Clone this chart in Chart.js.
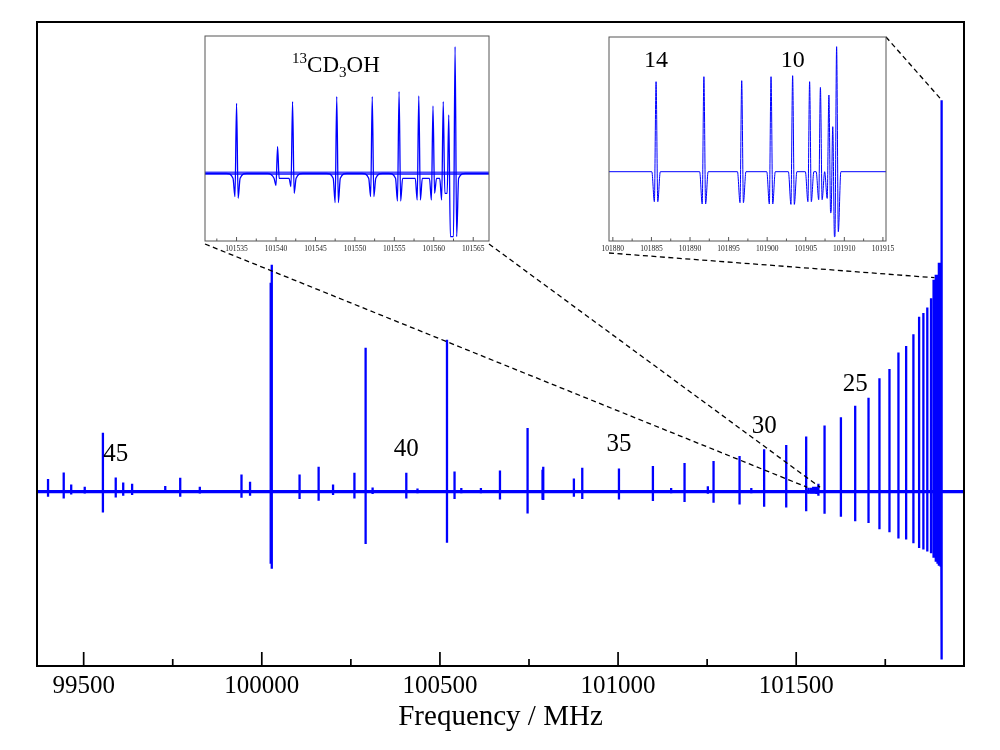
<!DOCTYPE html>
<html>
<head>
<meta charset="utf-8">
<title>13CD3OH spectrum</title>
<script src="https://cdn.jsdelivr.net/npm/chart.js@4.4.0/dist/chart.umd.min.js"></script>
<style>
  html, body { margin: 0; padding: 0; background: #fff; }
  #wrap { position: relative; width: 1000px; height: 750px; }
  #wrap canvas { position: absolute; left: 0; top: 0; }
</style>
</head>
<body>
<div id="wrap">
  <canvas id="main" width="1000" height="750"></canvas>
  <canvas id="inset1" width="1000" height="750"></canvas>
  <canvas id="inset2" width="1000" height="750"></canvas>
</div>
<script>
// ---------- data ----------
// main spectrum: line centres (MHz), height above / depth below baseline (arb. units)
const lineFreq = [
  99400, 99444, 99465, 99503, 99554, 99590, 99611, 99636, 99729, 99771,
  99826, 99943, 99967, 100025, 100028, 100106, 100159.5, 100200, 100260, 100291.4,
  100311, 100405.6, 100437, 100519.8, 100541, 100560, 100615, 100668.5, 100746, 100788,
  100790, 100876, 100899.5, 101002.5, 101097.8, 101149, 101186.6, 101252, 101268, 101341,
  101374, 101410, 101472, 101528, 101535, 101542, 101547.7, 101552.2, 101555.6, 101558.1,
  101561.9, 101562.7, 101579.6, 101625.5, 101665.6, 101703, 101733.7, 101761.8, 101787, 101808.6,
  101829, 101845, 101857, 101868, 101878.5, 101885.6, 101891.8, 101896.7, 101900.5, 101903.3,
  101905.5, 101906.9, 101908.0, 101908.5, 101909.0
];
const lineUp = [
  12.7, 19.3, 7.3, 5, 59, 14.3, 9.3, 8, 5.7, 14,
  5, 17.3, 10, 209, 227, 17.3, 25, 7.3, 19, 144,
  4.3, 19, 3.3, 152, 20.3, 3.7, 3.7, 21.3, 63.7, 22,
  25, 13.3, 24, 23.3, 25.8, 3.7, 28.8, 5.5, 30.6, 35.8,
  3.7, 42.4, 46.8, 55.3, 4, 4, 5, 5, 5, 5,
  6, 8, 66.3, 74.5, 85.9, 94, 113.5, 122.7, 139.3, 145.6,
  157.4, 175, 178.8, 184.3, 193.5, 212, 217, 217, 229, 229,
  229, 229, 229, 200, 391.4
];
const lineDown = [
  5, 6.7, 2.7, 1.7, 20.7, 5.7, 4, 3.3, 1.3, 5,
  1.7, 6, 4, 72, 77, 7.3, 9, 3.3, 6.7, 52.3,
  2.3, 6.7, 1.5, 51, 7.3, 1.5, 1.5, 7.7, 21.7, 8,
  8.3, 5, 7.3, 7.7, 9.2, 1.5, 10.3, 2, 11, 12.9,
  1.5, 15.1, 15.8, 19.5, 2, 2, 2, 2, 2, 2,
  3, 4, 22.1, 25, 29.5, 31.3, 37.6, 40.5, 46.8, 47.9,
  51.6, 56.4, 57.9, 59.7, 61.6, 66, 70, 72, 74, 74,
  75, 75, 75, 80, 167.8
];

// main axis
const mainRange = [99369, 101971];
const mainYRange = [-174.3, 469.7];
const mainMajorTicks = [99500, 100000, 100500, 101000, 101500];
const mainMinorTicks = [99750, 100250, 100750, 101250, 101750];

// J labels of the progression
const jLabels = ['45', '40', '35', '30', '25'];
const jLabelFreq = [99590, 100405.6, 101002.5, 101410, 101665.6];
const jLabelY = [37.7, 42.7, 47.7, 65.7, 107.7];

// inset 1: 13CD3OH lines
const in1Range = [101531, 101567];
const in1YRange = [-67.7, 137.3];
const in1Major = [101535, 101540, 101545, 101550, 101555, 101560, 101565];
const in1Minor = [101532.5, 101537.5, 101542.5, 101547.5, 101552.5, 101557.5, 101562.5];
const in1Freq = [101535.0, 101540.2, 101542.1, 101547.7, 101552.2, 101555.6, 101558.1, 101559.9, 101561.2, 101561.9, 101562.7];
const in1Up = [70, 26.7, 71.7, 76.7, 76.7, 81.7, 77.3, 67.3, 71.7, 58.3, 126.7];
const in1DipL = [23.3, 12, 13.3, 29.3, 23.3, 27.7, 26.7, 26.7, 26.7, 20, 63.3];
const in1DipR = [25, 5, 20, 29.3, 23.3, 27.7, 26.7, 20, 20, 63.3, 63.3];

// inset 2: band head
const in2Range = [101879.5, 101915.4];
const in2YRange = [-69.3, 134.7];
const in2Major = [101880, 101885, 101890, 101895, 101900, 101905, 101910, 101915];
const in2Minor = [101882.5, 101887.5, 101892.5, 101897.5, 101902.5, 101907.5, 101912.5];
const in2Freq = [101885.6, 101891.8, 101896.7, 101900.5, 101903.3, 101905.5, 101906.9, 101908.0, 101908.5, 101909.0];
const in2Up = [90, 95, 91, 95, 96, 90, 84.3, 76.7, 45, 125];
const in2DipL = [30, 32.3, 31, 32.3, 32.7, 30, 28, 26.7, 41, 65];
const in2DipR = [30, 32.3, 31, 32.3, 32.7, 30, 28, 41, 65, 60];
const in2Labels = ['14', '10'];
const in2LabelFreq = [101885.6, 101903.3];
const in2LabelY = [110.7, 110.7];

// ---------- layout / style ----------
const SERIF = "'Liberation Serif', 'Times New Roman', serif";
const BLUE = '#0000ff';
const mainBox = { left: 37, top: 22, right: 964, bottom: 666 };
const inset1Box = { left: 205, top: 36, right: 489, bottom: 241 };
const inset2Box = { left: 609, top: 37, right: 886, bottom: 241 };

// ---------- trace builders ----------
// stick lines for the overview: baseline -> top -> bottom -> baseline
function stickTrace(freqs, ups, downs, range) {
  const pts = [{ x: range[0], y: 0 }];
  freqs.forEach((f, i) => {
    pts.push({ x: f, y: 0 }, { x: f, y: ups[i] }, { x: f, y: -downs[i] }, { x: f, y: 0 });
  });
  pts.push({ x: range[1], y: 0 });
  return pts;
}

// zoomed line shape: dip, peak, dip, with baseline returns where the lines are apart
function shapeTrace(freqs, ups, dipL, dipR, shape, range) {
  const pts = [{ x: range[0], y: 0 }];
  freqs.forEach((f, i) => {
    const gapL = i > 0 ? f - freqs[i - 1] : Infinity;
    const gapR = i < freqs.length - 1 ? freqs[i + 1] - f : Infinity;
    if (gapL > 2 * shape.zero) pts.push({ x: f - shape.zero, y: 0 });
    if (shape.wing && gapL > 2 * shape.wing) pts.push({ x: f - shape.wing, y: -shape.wingDepth });
    pts.push({ x: f - shape.dip, y: -dipL[i] }, { x: f, y: ups[i] }, { x: f + shape.dip, y: -dipR[i] });
    if (shape.wing && gapR > 2 * shape.wing) pts.push({ x: f + shape.wing, y: -shape.wingDepth });
    if (gapR > 2 * shape.zero) pts.push({ x: f + shape.zero, y: 0 });
  });
  pts.push({ x: range[1], y: 0 });
  return pts;
}

// ---------- plugins ----------
const whiteBox = {
  id: 'whiteBox',
  beforeDraw(chart) {
    const { ctx, chartArea: a } = chart;
    ctx.save();
    ctx.fillStyle = '#fff';
    ctx.fillRect(a.left, a.top, a.right - a.left, a.bottom - a.top);
    ctx.restore();
  }
};

function frameTicks(o) {
  return {
    id: 'frameTicks',
    afterDraw(chart) {
      const { ctx, chartArea: a, scales: { x } } = chart;
      ctx.save();
      ctx.strokeStyle = o.color;
      ctx.lineWidth = o.tickWidth;
      ctx.beginPath();
      o.major.forEach(v => {
        const px = x.getPixelForValue(v);
        ctx.moveTo(px, a.bottom);
        ctx.lineTo(px, a.bottom - o.majorLen);
      });
      o.minor.forEach(v => {
        const px = x.getPixelForValue(v);
        ctx.moveTo(px, a.bottom);
        ctx.lineTo(px, a.bottom - o.minorLen);
      });
      ctx.stroke();
      ctx.lineWidth = o.frameWidth;
      ctx.strokeRect(a.left, a.top, a.right - a.left, a.bottom - a.top);
      ctx.restore();
    }
  };
}

function textLabels(texts, freqs, ys, size) {
  return {
    id: 'textLabels',
    afterDraw(chart) {
      const { ctx, scales: { x, y } } = chart;
      ctx.save();
      ctx.fillStyle = '#000';
      ctx.font = `${size}px ${SERIF}`;
      ctx.textAlign = 'center';
      ctx.textBaseline = 'middle';
      texts.forEach((t, i) => ctx.fillText(t, x.getPixelForValue(freqs[i]), y.getPixelForValue(ys[i])));
      ctx.restore();
    }
  };
}

// 13CD3OH with super- and subscripts
const formulaLabel = {
  id: 'formulaLabel',
  afterDraw(chart) {
    const { ctx, scales: { x, y } } = chart;
    const parts = [
      { t: '13', size: 15, dy: -9 },
      { t: 'CD', size: 23, dy: 0 },
      { t: '3', size: 15, dy: 5 },
      { t: 'OH', size: 23, dy: 0 }
    ];
    ctx.save();
    ctx.fillStyle = '#000';
    ctx.textBaseline = 'alphabetic';
    ctx.textAlign = 'left';
    let w = 0;
    parts.forEach(p => { ctx.font = `${p.size}px ${SERIF}`; p.w = ctx.measureText(p.t).width; w += p.w; });
    let px = x.getPixelForValue(101547.6) - w / 2;
    const py = y.getPixelForValue(101.6);
    parts.forEach(p => {
      ctx.font = `${p.size}px ${SERIF}`;
      ctx.fillText(p.t, px, py + p.dy);
      px += p.w;
    });
    ctx.restore();
  }
};

// dashed lines from the inset corners to the zoomed regions
const connectors = {
  id: 'connectors',
  afterDraw(chart) {
    const { ctx, scales: { x, y } } = chart;
    const links = [
      [inset1Box.left, inset1Box.bottom + 3, in1Range[0], 4.4],
      [inset1Box.right, inset1Box.bottom + 3, in1Range[1], 4.4],
      [inset2Box.left, inset2Box.bottom + 12, 101888, 214],
      [inset2Box.right, inset2Box.top, 101909, 391.4]
    ];
    ctx.save();
    ctx.strokeStyle = '#000';
    ctx.lineWidth = 1.3;
    ctx.setLineDash([5, 3.5]);
    links.forEach(([px, py, fx, fy]) => {
      ctx.beginPath();
      ctx.moveTo(px, py);
      ctx.lineTo(x.getPixelForValue(fx), y.getPixelForValue(fy));
      ctx.stroke();
    });
    ctx.restore();
  }
};

// ---------- main chart ----------
new Chart(document.getElementById('main'), {
  type: 'scatter',
  data: {
    datasets: [
      {
        data: [{ x: mainRange[0], y: 0 }, { x: mainRange[1], y: 0 }],
        showLine: true, borderColor: BLUE, borderWidth: 3.2, pointRadius: 0
      },
      {
        data: stickTrace(lineFreq, lineUp, lineDown, mainRange),
        showLine: true, borderColor: BLUE, borderWidth: 2.3, pointRadius: 0,
        borderJoinStyle: 'bevel'
      }
    ]
  },
  options: {
    responsive: false,
    animation: false,
    devicePixelRatio: 1,
    layout: { padding: { left: mainBox.left, right: 1000 - mainBox.right, top: mainBox.top, bottom: 0 } },
    plugins: { legend: { display: false }, tooltip: { enabled: false } },
    scales: {
      x: {
        type: 'linear',
        min: mainRange[0],
        max: mainRange[1],
        afterBuildTicks: s => { s.ticks = mainMajorTicks.map(v => ({ value: v })); },
        afterFit: s => { s.height = 750 - mainBox.bottom; },
        grid: { display: false, drawTicks: false },
        border: { display: false },
        ticks: {
          autoSkip: false, maxRotation: 0, padding: 5, color: '#000',
          font: { family: SERIF, size: 25 },
          callback: v => String(v)
        },
        title: {
          display: true, text: 'Frequency / MHz', color: '#000',
          font: { family: SERIF, size: 29 },
          padding: { top: 0, bottom: 15 }
        }
      },
      y: { display: false, min: mainYRange[0], max: mainYRange[1] }
    }
  },
  plugins: [
    frameTicks({ major: mainMajorTicks, minor: mainMinorTicks, majorLen: 14, minorLen: 7, tickWidth: 1.7, frameWidth: 2, color: '#000' }),
    textLabels(jLabels, jLabelFreq, jLabelY, 25),
    connectors
  ]
});

// ---------- insets ----------
function insetChart(id, box, cfg) {
  const xh = 14;
  return new Chart(document.getElementById(id), {
    type: 'scatter',
    data: { datasets: cfg.datasets },
    options: {
      responsive: false,
      animation: false,
      devicePixelRatio: 1,
      layout: { padding: { left: box.left, right: 1000 - box.right, top: box.top, bottom: 750 - box.bottom - xh } },
      plugins: { legend: { display: false }, tooltip: { enabled: false } },
      scales: {
        x: {
          type: 'linear',
          min: cfg.range[0],
          max: cfg.range[1],
          afterBuildTicks: s => { s.ticks = cfg.major.map(v => ({ value: v })); },
          afterFit: s => { s.height = xh; },
          grid: { display: false, drawTicks: false },
          border: { display: false },
          ticks: {
            autoSkip: false, maxRotation: 0, padding: 4, color: '#222',
            font: { family: SERIF, size: 7.5 },
            callback: v => String(v)
          }
        },
        y: { display: false, min: cfg.yRange[0], max: cfg.yRange[1] }
      }
    },
    plugins: [
      whiteBox,
      frameTicks({ major: cfg.major, minor: cfg.minor, majorLen: 4, minorLen: 2.5, tickWidth: 1, frameWidth: 1, color: '#555' }),
      cfg.labels
    ]
  });
}

insetChart('inset1', inset1Box, {
  range: in1Range, yRange: in1YRange, major: in1Major, minor: in1Minor,
  datasets: [
    {
      data: [{ x: in1Range[0], y: 0 }, { x: in1Range[1], y: 0 }],
      showLine: true, borderColor: 'rgba(0,0,255,0.7)', borderWidth: 3.5, pointRadius: 0
    },
    {
      data: shapeTrace(in1Freq, in1Up, in1DipL, in1DipR, { dip: 0.2, wing: 0.45, wingDepth: 5, zero: 1.3 }, in1Range),
      showLine: true, borderColor: BLUE, borderWidth: 1.3, pointRadius: 0,
      cubicInterpolationMode: 'monotone'
    }
  ],
  labels: formulaLabel
});

insetChart('inset2', inset2Box, {
  range: in2Range, yRange: in2YRange, major: in2Major, minor: in2Minor,
  datasets: [
    {
      data: shapeTrace(in2Freq, in2Up, in2DipL, in2DipR, { dip: 0.22, zero: 0.55 }, in2Range),
      showLine: true, borderColor: BLUE, borderWidth: 1, pointRadius: 0,
      cubicInterpolationMode: 'monotone'
    }
  ],
  labels: textLabels(in2Labels, in2LabelFreq, in2LabelY, 24)
});
</script>
</body>
</html>
